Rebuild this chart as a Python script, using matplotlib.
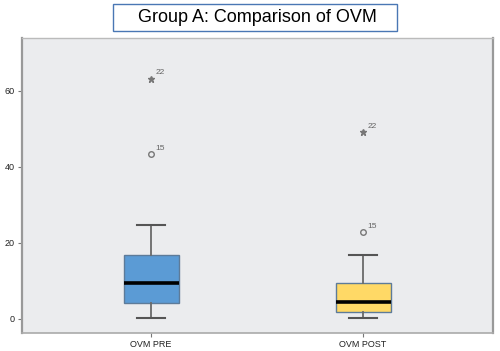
import matplotlib
matplotlib.use("Agg")
import matplotlib.pyplot as plt
from matplotlib.patches import Rectangle

plt.rcParams["font.family"] = ["Liberation Sans", "DejaVu Sans"]

# data
groups = ["OVM PRE", "OVM POST"]
q1 = [4.2, 1.8]
med = [9.5, 4.5]
q3 = [16.8, 9.5]
whislo = [0.3, 0.3]
whishi = [24.7, 16.8]
outlier_vals = [43.4, 22.9]      # circles, case 15
extreme_vals = [63.2, 49.2]      # stars, case 22
outlier_ids = ["15", "15"]
extreme_ids = ["22", "22"]
box_colors = ["#5b9bd5", "#ffd966"]

fig = plt.figure(figsize=(5, 3.51), dpi=100)
fig.patch.set_facecolor("white")
ax = fig.add_axes([0.044, 0.0513, 0.942, 0.8404])
ax.set_facecolor("#ebecee")

stats = []
for i in range(len(groups)):
    stats.append(dict(q1=q1[i], med=med[i], q3=q3[i], whislo=whislo[i],
                      whishi=whishi[i], fliers=[], label=groups[i]))

bp = ax.bxp(stats, positions=[1, 2], widths=0.26, patch_artist=True,
            showfliers=False,
            medianprops=dict(color="black", lw=2.6),
            whiskerprops=dict(color="#6a6a6a", lw=1.3),
            capprops=dict(color="#555555", lw=1.5),
            boxprops=dict(lw=1.0))
for patch, c in zip(bp["boxes"], box_colors):
    patch.set_facecolor(c)
    patch.set_edgecolor("#5d7b99")
for cap in bp["caps"]:
    x0, x1 = cap.get_xdata()
    m = (x0 + x1) / 2
    cap.set_xdata([m - 0.065, m + 0.065])

pos = [1, 2]
ax.plot(pos, outlier_vals, ls="none", marker="o", ms=4, mfc="none",
        mec="#777777", mew=1.0)
ax.plot(pos, extreme_vals, ls="none", marker="*", ms=5, color="#777777")
for p, v, t in zip(pos, outlier_vals, outlier_ids):
    ax.text(p + 0.02, v + 0.6, t, fontsize=6, color="#666666",
            ha="left", va="bottom")
for p, v, t in zip(pos, extreme_vals, extreme_ids):
    ax.text(p + 0.02, v + 0.6, t, fontsize=6, color="#666666",
            ha="left", va="bottom")

ax.set_xlim(0.391, 2.613)
ax.set_ylim(-3.7, 73.9)
ax.set_yticks([0, 20, 40, 60])
ax.set_xticks(pos)
ax.set_xticklabels(groups)
ax.tick_params(axis="both", labelsize=6.5, colors="#222222", length=3,
               width=0.8, pad=2)
ax.tick_params(axis="both", color="#777777")

for s in ["left", "right"]:
    ax.spines[s].set_color("#999999")
    ax.spines[s].set_linewidth(1.6)
ax.spines["bottom"].set_color("#aaaaaa")
ax.spines["bottom"].set_linewidth(1.2)
ax.spines["top"].set_color("#bbbbbb")
ax.spines["top"].set_linewidth(1.0)

# title box
fig.patches.append(Rectangle((113 / 500, 1 - 31 / 351), 284 / 500, 27 / 351,
                             transform=fig.transFigure, fc="white",
                             ec="#4a77b4", lw=1.0))
fig.text(257 / 500, 1 - 17.5 / 351, "Group A: Comparison of OVM",
         ha="center", va="center", fontsize=13, color="black")

fig.savefig("out.png", dpi=100)
